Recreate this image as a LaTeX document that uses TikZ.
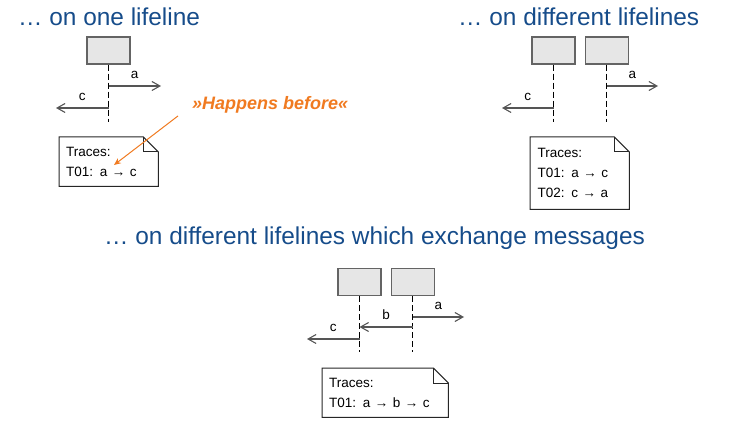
\documentclass[tikz,border=0pt]{standalone}
\usepackage{fontspec}
\setmainfont{Liberation Sans}
\usetikzlibrary{positioning, arrows.meta}
\definecolor{titleblue}{RGB}{22,76,138}
\definecolor{hborange}{RGB}{240,122,32}
\definecolor{headfill}{RGB}{230,230,230}
\definecolor{headdraw}{RGB}{100,100,100}
\definecolor{msggray}{RGB}{85,85,85}
\newcommand{\notebody}[1]{%
  \draw[noteline] (#1.north west) -- ([xshift=-15pt]#1.north east)
    -- ([yshift=-15pt]#1.north east) -- (#1.south east)
    -- (#1.south west) -- cycle;
  \draw[noteline] ([xshift=-15pt]#1.north east) |- ([yshift=-15pt]#1.north east);}

\begin{document}
\begin{tikzpicture}[
    x = 1pt, y = -1pt,
    title/.style    = {anchor=base west, inner sep=0pt, text=titleblue,
                       font=\fontsize{24.4}{29}\selectfont},
    head/.style     = {rectangle, draw=headdraw, fill=headfill, line width=1.3pt,
                       minimum width=43pt, minimum height=27pt, inner sep=0pt},
    lifeline/.style = {line width=0.9pt, dash pattern=on 6pt off 3pt},
    message/.style  = {draw=msggray, line width=1.1pt,
                       -{Straight Barb[length=8pt, width=9pt]}},
    msglabel/.style = {above=7pt, inner sep=0pt, text=black,
                       font=\fontsize{13.5}{16}\selectfont},
    note/.style     = {anchor=north west, inner xsep=7pt, inner ysep=0pt,
                       align=left, font=\fontsize{13.5}{20}\selectfont},
    noteline/.style = {draw=black!85, line width=1pt},
    hbtext/.style   = {anchor=base west, inner sep=0pt, text=hborange,
                       font=\fontsize{18}{22}\selectfont\bfseries\itshape},
    hbarrow/.style  = {draw=hborange, line width=1pt,
                       -{Stealth[length=7pt, width=6pt]}}
]
\useasboundingbox (0,0) rectangle (749,427);

% one lifeline
\node[title] (t1) at (18,26) {… on one lifeline};
\node[head] (h1) at (108.5,50.5) {};
\coordinate (l1)  at (h1 |- 0,122);
\coordinate (a1s) at (h1 |- 0,86);
\coordinate (a1e) at (161,86);
\coordinate (c1s) at (h1 |- 0,108);
\coordinate (c1e) at (56,108);
\draw[lifeline] (h1.south) -- (l1);
\draw[message] (a1s) -- node[msglabel] {a} (a1e);
\draw[message] (c1s) -- node[msglabel] {c} (c1e);
\node[note, text width=85pt, minimum height=49pt] (n1) at (59,137) {Traces:\\T01: a → c};
\notebody{n1}
\node[hbtext] (hb) at (192,110) {»Happens before«};
\coordinate (hbtip) at (114,165);
\draw[hbarrow] ([shift={(-14pt,-2pt)}]hb.south west) -- (hbtip);

% different lifelines
\node[title] (t2) at (458,26) {… on different lifelines};
\node[head] (h2a) at (553.5,50.5) {};
\node[head, right=9pt of h2a] (h2b) {};
\coordinate (l2a) at (h2a |- 0,122);
\coordinate (l2b) at (h2b |- 0,122);
\coordinate (a2s) at (h2b |- 0,86);
\coordinate (a2e) at (658,86);
\coordinate (c2s) at (h2a |- 0,108);
\coordinate (c2e) at (502,108);
\draw[lifeline] (h2a.south) -- (l2a);
\draw[lifeline] (h2b.south) -- (l2b);
\draw[message] (a2s) -- node[msglabel] {a} (a2e);
\draw[message] (c2s) -- node[msglabel] {c} (c2e);
\node[note, text width=84pt, inner xsep=7.5pt, minimum height=72pt] (n2) at (530,137)
  {Traces:\\T01: a → c\\T02: c → a};
\notebody{n2}

% exchanged messages
\node[title] (t3) at (104,245) {… on different lifelines which exchange messages};
\node[head] (h3a) at (359.5,282) {};
\node[head, right=9pt of h3a] (h3b) {};
\coordinate (l3a) at (h3a |- 0,352);
\coordinate (l3b) at (h3b |- 0,352);
\coordinate (a3s) at (h3b |- 0,317);
\coordinate (a3e) at (464,317);
\coordinate (b3s) at (h3b |- 0,327);
\coordinate (b3e) at (h3a |- 0,327);
\coordinate (c3s) at (h3a |- 0,339);
\coordinate (c3e) at (307,339);
\draw[lifeline] (h3a.south) -- (l3a);
\draw[lifeline] (h3b.south) -- (l3b);
\draw[message] (a3s) -- node[msglabel] {a} (a3e);
\draw[message] (b3s) -- node[msglabel] {b} (b3e);
\draw[message] (c3s) -- node[msglabel] {c} (c3e);
\node[note, text width=112pt, minimum height=49pt] (n3) at (322,368) {Traces:\\T01: a → b → c};
\notebody{n3}
\end{tikzpicture}
\end{document}
